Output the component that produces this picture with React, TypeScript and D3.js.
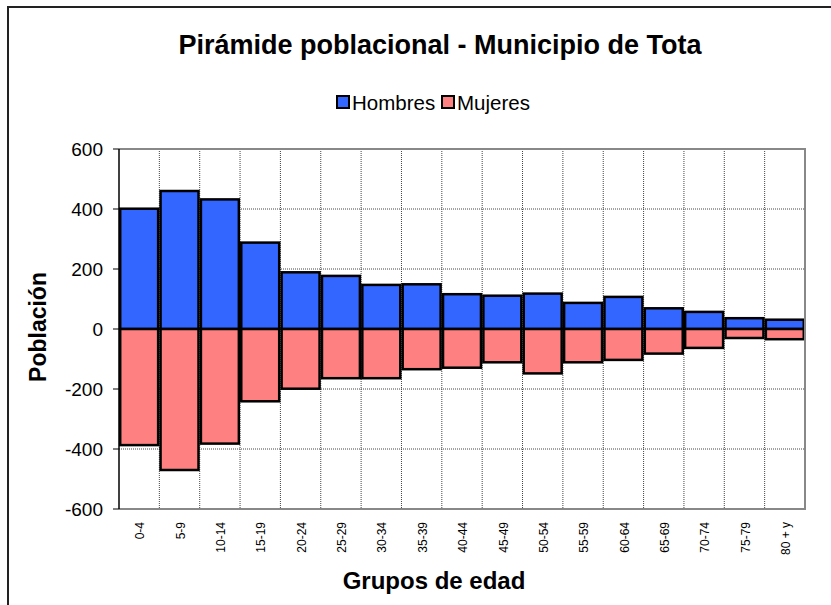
import React from "react";
import * as d3 from "d3";

const categories = ["0-4","5-9","10-14","15-19","20-24","25-29","30-34","35-39","40-44","45-49","50-54","55-59","60-64","65-69","70-74","75-79","80 + y"];
const hombres = [401,460,432,288,189,177,147,149,116,111,118,87,107,69,57,36,31];
const mujeres = [-387,-470,-382,-241,-199,-164,-164,-134,-129,-111,-148,-111,-103,-82,-63,-30,-34];
const yTicks = [-600,-400,-200,0,200,400,600];
const seriesNames = ["Hombres","Mujeres"];
const seriesColors = ["#3366FF","#FF8080"];

export default function App() {
  const W = 831, H = 605;
  const left = 119, right = 805, top = 149, bottom = 509;
  const x = d3.scaleBand<string>().domain(categories).range([left, right]).paddingInner(0.06).paddingOuter(0.03);
  const xb = d3.scaleBand<string>().domain(categories).range([left, right]);
  const y = d3.scaleLinear().domain([-600, 600]).range([bottom, top]);
  const font = "'Liberation Sans', Arial, sans-serif";
  const series = [hombres, mujeres];
  return (
    <svg width={W} height={H} style={{ position: "absolute", left: 0, top: 0, background: "#fff" }} fontFamily={font}>
      <rect x={8} y={7} width={W + 20} height={H + 20} fill="#fff" stroke="#222" strokeWidth={2} />
      <text x={440} y={54} textAnchor="middle" fontSize={27} fontWeight="bold">Pirámide poblacional - Municipio de Tota</text>
      {/* legend */}
      <g>
        <rect x={337} y={96} width={12} height={12} fill={seriesColors[0]} stroke="#000" strokeWidth={2} />
        <text x={352} y={110} fontSize={20.5}>{seriesNames[0]}</text>
        <rect x={442} y={96} width={12} height={12} fill={seriesColors[1]} stroke="#000" strokeWidth={2} />
        <text x={457} y={110} fontSize={20.5}>{seriesNames[1]}</text>
      </g>
      {/* grid */}
      {yTicks.filter(t => t !== 600 && t !== -600).map(t => (
        <line key={"h" + t} x1={left} x2={right} y1={y(t)} y2={y(t)} stroke="#444" strokeWidth={1} strokeDasharray="1,1" />
      ))}
      {categories.slice(1).map(c => (
        <line key={"v" + c} x1={xb(c)!} x2={xb(c)!} y1={top} y2={bottom} stroke="#444" strokeWidth={1} strokeDasharray="1,1" />
      ))}
      {/* bars */}
      {series.map((vals, si) => vals.map((v, i) => {
        const c = categories[i];
        const y0 = y(0), y1 = y(v);
        return (
          <rect key={si + "-" + i} x={x(c)!} width={x.bandwidth()} y={Math.min(y0, y1)} height={Math.abs(y1 - y0)}
            fill={seriesColors[si]} stroke="#000" strokeWidth={2.5} />
        );
      }))}
      {/* plot border */}
      <path d={`M${left},${top}H${right}V${bottom}H${left}`} fill="none" stroke="#888" strokeWidth={2} />
      <line x1={left} x2={left} y1={top} y2={bottom} stroke="#000" strokeWidth={1.5} />
      {/* y ticks */}
      {yTicks.map(t => (
        <g key={"t" + t}>
          <line x1={left - 6} x2={left} y1={y(t)} y2={y(t)} stroke="#000" strokeWidth={1} />
          <text x={103} y={y(t)} dy="0.35em" textAnchor="end" fontSize={19}>{t}</text>
        </g>
      ))}
      {/* x labels */}
      {categories.map(c => (
        <text key={"x" + c} transform={`translate(${xb(c)! + xb.bandwidth() / 2 + 1},522) rotate(-90)`} dy="0.35em" textAnchor="end" fontSize={12}>{c}</text>
      ))}
      <text x={434} y={589} textAnchor="middle" fontSize={24} fontWeight="bold">Grupos de edad</text>
      <text transform="translate(46,327) rotate(-90)" textAnchor="middle" fontSize={23} fontWeight="bold">Población</text>
    </svg>
  );
}
